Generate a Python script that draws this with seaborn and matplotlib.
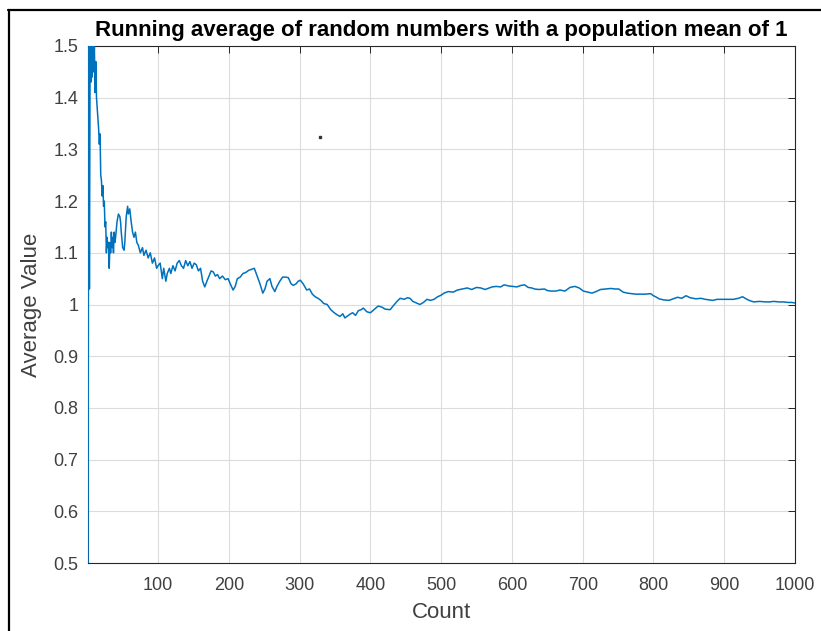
import matplotlib
matplotlib.use("Agg")
import matplotlib.pyplot as plt
import seaborn as sns
from matplotlib.lines import Line2D

# running average, (count, value)
counts = [1, 2, 3, 4, 5, 6, 7, 8, 9, 10, 11, 12, 13, 14, 15, 16, 17, 18, 19, 20,
          21, 22, 23, 24, 25, 26, 27, 28, 29, 30, 31, 32, 33, 34, 35, 36, 37, 38, 39, 40,
          42, 44, 46, 47, 48, 50, 52, 53, 55, 57, 58, 60, 62, 64, 66, 68, 70, 72, 75, 78,
          80, 83, 86, 89, 92, 95, 98, 100, 103, 106, 108, 111, 113, 116, 118, 121, 124, 127, 130, 133,
          136, 139, 142, 145, 148, 151, 154, 157, 160, 163, 166, 169, 172, 175, 178, 181, 184, 187, 191, 195,
          199, 202, 206, 209, 212, 216, 220, 224, 228, 232, 236, 240, 244, 248, 251, 254, 258, 261, 265, 268,
          272, 276, 280, 284, 288, 291, 295, 298, 301, 305, 310, 314, 318, 322, 326, 330, 334, 339, 344, 348,
          353, 357, 361, 364, 368, 372, 375, 379, 383, 387, 390, 395, 400, 405, 411, 416, 421, 428, 432, 437,
          442, 448, 452, 456, 460, 465, 470, 475, 480, 485, 490, 495, 500, 504, 510, 517, 523, 530, 537, 543,
          550, 556, 562, 566, 572, 578, 584, 589, 595, 601, 607, 613, 618, 623, 628, 632, 638, 646, 650, 655,
          662, 668, 675, 682, 689, 695, 701, 707, 713, 719, 725, 732, 740, 746, 751, 757, 763, 769, 775, 781,
          788, 796, 800, 803, 808, 814, 822, 828, 834, 840, 846, 852, 860, 867, 873, 879, 884, 890, 897, 905,
          913, 920, 926, 932, 937, 942, 950, 958, 964, 970, 977, 984, 990, 995, 1000]
avg_values = [0.45, 1.62, 1.03, 1.50, 1.43, 1.55, 1.44, 1.52, 1.45, 1.50, 1.41, 1.47, 1.40, 1.38, 1.36, 1.34, 1.31, 1.33, 1.25, 1.24,
              1.21, 1.23, 1.19, 1.20, 1.15, 1.16, 1.10, 1.13, 1.11, 1.12, 1.07, 1.12, 1.10, 1.14, 1.11, 1.13, 1.10, 1.14, 1.12, 1.13,
              1.16, 1.175, 1.17, 1.16, 1.14, 1.11, 1.105, 1.12, 1.17, 1.19, 1.175, 1.185, 1.16, 1.14, 1.13, 1.14, 1.12, 1.115, 1.10, 1.11,
              1.095, 1.105, 1.09, 1.10, 1.08, 1.09, 1.07, 1.075, 1.08, 1.05, 1.07, 1.045, 1.06, 1.07, 1.06, 1.075, 1.065, 1.08, 1.085, 1.075,
              1.07, 1.085, 1.075, 1.083, 1.07, 1.08, 1.077, 1.065, 1.07, 1.045, 1.034, 1.045, 1.055, 1.065, 1.063, 1.055, 1.058, 1.05, 1.055, 1.048,
              1.05, 1.04, 1.028, 1.035, 1.05, 1.053, 1.06, 1.062, 1.066, 1.068, 1.07, 1.055, 1.04, 1.022, 1.03, 1.045, 1.05, 1.035, 1.025, 1.035,
              1.045, 1.053, 1.053, 1.052, 1.04, 1.037, 1.04, 1.045, 1.047, 1.04, 1.028, 1.03, 1.02, 1.015, 1.012, 1.008, 1.002, 1.0, 0.99, 0.985,
              0.98, 0.977, 0.982, 0.974, 0.978, 0.982, 0.984, 0.979, 0.988, 0.99, 0.993, 0.986, 0.984, 0.99, 0.997, 0.995, 0.991, 0.99, 0.997, 1.005,
              1.012, 1.01, 1.013, 1.012, 1.006, 1.003, 1.0, 1.004, 1.01, 1.008, 1.01, 1.015, 1.018, 1.022, 1.025, 1.024, 1.028, 1.03, 1.032, 1.029,
              1.033, 1.032, 1.029, 1.031, 1.034, 1.035, 1.034, 1.038, 1.036, 1.035, 1.034, 1.037, 1.038, 1.033, 1.032, 1.03, 1.029, 1.03, 1.027, 1.026,
              1.026, 1.028, 1.026, 1.033, 1.035, 1.032, 1.026, 1.024, 1.022, 1.025, 1.029, 1.03, 1.031, 1.03, 1.03, 1.024, 1.022, 1.021, 1.02, 1.02,
              1.02, 1.021, 1.017, 1.015, 1.011, 1.009, 1.008, 1.011, 1.014, 1.012, 1.017, 1.013, 1.011, 1.012, 1.01, 1.009, 1.008, 1.01, 1.01, 1.01,
              1.01, 1.012, 1.015, 1.01, 1.007, 1.005, 1.006, 1.005, 1.005, 1.006, 1.005, 1.005, 1.004, 1.004, 1.003]

x_ticks = [100, 200, 300, 400, 500, 600, 700, 800, 900, 1000]
y_ticks = [0.5, 0.6, 0.7, 0.8, 0.9, 1.0, 1.1, 1.2, 1.3, 1.4, 1.5]
y_labels = ["0.5", "0.6", "0.7", "0.8", "0.9", "1", "1.1", "1.2", "1.3", "1.4", "1.5"]

sns.set_style("white")
plt.rcParams['font.family'] = ['Liberation Sans', 'DejaVu Sans']

W, H = 821, 631
fig = plt.figure(figsize=(W / 100, H / 100), dpi=100)
ax = fig.add_axes([88 / W, 1 - 563 / H, (795 - 88) / W, (563 - 46) / H])

sns.lineplot(x=counts, y=avg_values, ax=ax, color='#0072BD', linewidth=1.1,
             estimator=None, sort=False, zorder=3)

ax.set_xlim(1, 1000)
ax.set_ylim(0.5, 1.5)
ax.set_xticks(x_ticks)
ax.set_yticks(y_ticks)
ax.set_yticklabels(y_labels)
ax.grid(True, color='#dcdcdc', linewidth=0.8)
ax.tick_params(direction='in', length=5, width=0.7, colors='#262626',
               labelsize=13, top=True, right=True)
ax.tick_params(axis='x', labelcolor='#404040', pad=10)
ax.tick_params(axis='y', labelcolor='#404040', pad=7)
for s in ax.spines.values():
    s.set_color('#262626')
    s.set_linewidth(0.8)

ax.set_title("Running average of random numbers with a population mean of 1",
             fontsize=16, fontweight='bold', color='black', pad=7)
ax.set_xlabel("Count", fontsize=16, color='#404040', labelpad=6)
ax.set_ylabel("Average Value", fontsize=16, color='#404040', labelpad=8)

# window frame of the screenshot and the stray dot
fig.add_artist(Line2D([8 / W, 1], [1 - 10 / H, 1 - 10 / H], color='black', linewidth=1.6))
fig.add_artist(Line2D([9 / W, 9 / W], [0, 1 - 10 / H], color='black', linewidth=1.6))
fig.add_artist(Line2D([320 / W], [1 - 137 / H], marker='s', markersize=2, color='#333333'))

fig.savefig("out.png", dpi=100)
